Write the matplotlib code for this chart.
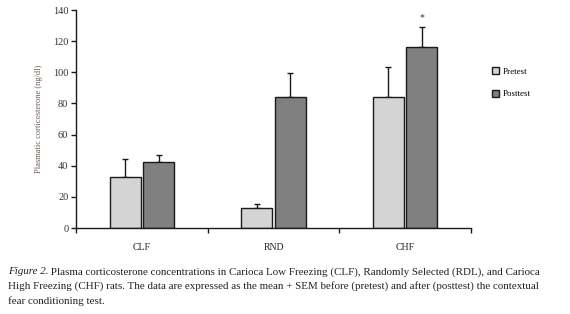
import matplotlib
matplotlib.use("Agg")
import matplotlib.pyplot as plt
import numpy as np

categories = ["CLF", "RND", "CHF"]
pretest = [32.7, 12.6, 84.0]
pretest_sem = [11.6, 2.6, 19.2]
posttest = [42.4, 83.9, 116.0]
posttest_sem = [4.5, 15.4, 13.0]
yticks = [0, 20, 40, 60, 80, 100, 120, 140]

plt.rcParams['font.family'] = ['Liberation Serif', 'DejaVu Serif']

fig = plt.figure(figsize=(5.7, 3.14), dpi=100)
ax = fig.add_axes([76/570, 1-228/314, (471-76)/570, 218/314])

x = np.arange(len(categories)) + 0.5
w = 0.235
off = 0.127
ax.bar(x - off, pretest, w, color="#d4d4d4", edgecolor="#1a1a1a", linewidth=1.0, label="Pretest", zorder=2)
ax.bar(x + off, posttest, w, color="#808080", edgecolor="#1a1a1a", linewidth=1.0, label="Posttest", zorder=2)
ax.errorbar(x - off, pretest, yerr=[np.zeros(3), pretest_sem], fmt="none", ecolor="#1a1a1a", elinewidth=1.0, capsize=2.5, capthick=1.0, zorder=1)
ax.errorbar(x + off, posttest, yerr=[np.zeros(3), posttest_sem], fmt="none", ecolor="#1a1a1a", elinewidth=1.0, capsize=2.5, capthick=1.0, zorder=1)

ax.text(x[2] + off, posttest[2] + posttest_sem[2] + 3.5, "*", ha="center", va="bottom", fontsize=7, color="#333333")

ax.set_xlim(0, 3)
ax.set_ylim(0, 140)
ax.set_yticks(yticks)
ax.set_yticklabels([str(t) for t in yticks], fontsize=7.5, color="#333333")
ax.set_xticks([0, 1, 2, 3])
ax.set_xticklabels([])
ax.tick_params(axis="both", length=3.5, width=1.0, color="#1a1a1a", pad=2)
for s in ["top", "right"]:
    ax.spines[s].set_visible(False)
for s in ["left", "bottom"]:
    ax.spines[s].set_linewidth(1.0)
    ax.spines[s].set_color("#1a1a1a")

for xi, c in zip(x, categories):
    ax.text(xi, -0.088, c, transform=ax.get_xaxis_transform(), ha="center", va="center", fontsize=7, color="#222222")

ax.set_ylabel("Plasmatic corticosterone (ng/dl)", fontsize=6, color="#6e5a50", labelpad=7)

leg = fig.legend(loc="upper left", bbox_to_anchor=(484/570, 1-59/314), frameon=False, fontsize=6.5,
                 handlelength=0.75, handleheight=0.75, labelspacing=1.6, handletextpad=0.45)

# caption
cap_label = "Figure 2."
cap_line1 = " Plasma corticosterone concentrations in Carioca Low Freezing (CLF), Randomly Selected (RDL), and Carioca"
cap_line2 = "High Freezing (CHF) rats. The data are expressed as the mean + SEM before (pretest) and after (posttest) the contextual"
cap_line3 = "fear conditioning test."

r = fig.canvas.get_renderer()
fs = 8.0
probe = fig.text(0, 0, cap_line2, fontsize=fs)
fs = fs * 525.0 / probe.get_window_extent(r).width
probe.remove()

W, H = 570.0, 314.0
ys = [272, 286.5, 301]
tl = fig.text(8/W, 1-ys[0]/H, cap_label, fontsize=fs, style="italic", ha="left", va="center", color="#222222")
ext = tl.get_window_extent(r)
fig.text(ext.x1/W, 1-ys[0]/H, cap_line1, fontsize=fs, ha="left", va="center", color="#222222")
fig.text(8/W, 1-ys[1]/H, cap_line2, fontsize=fs, ha="left", va="center", color="#222222")
fig.text(8/W, 1-ys[2]/H, cap_line3, fontsize=fs, ha="left", va="center", color="#222222")

fig.savefig("out.png", dpi=100)
